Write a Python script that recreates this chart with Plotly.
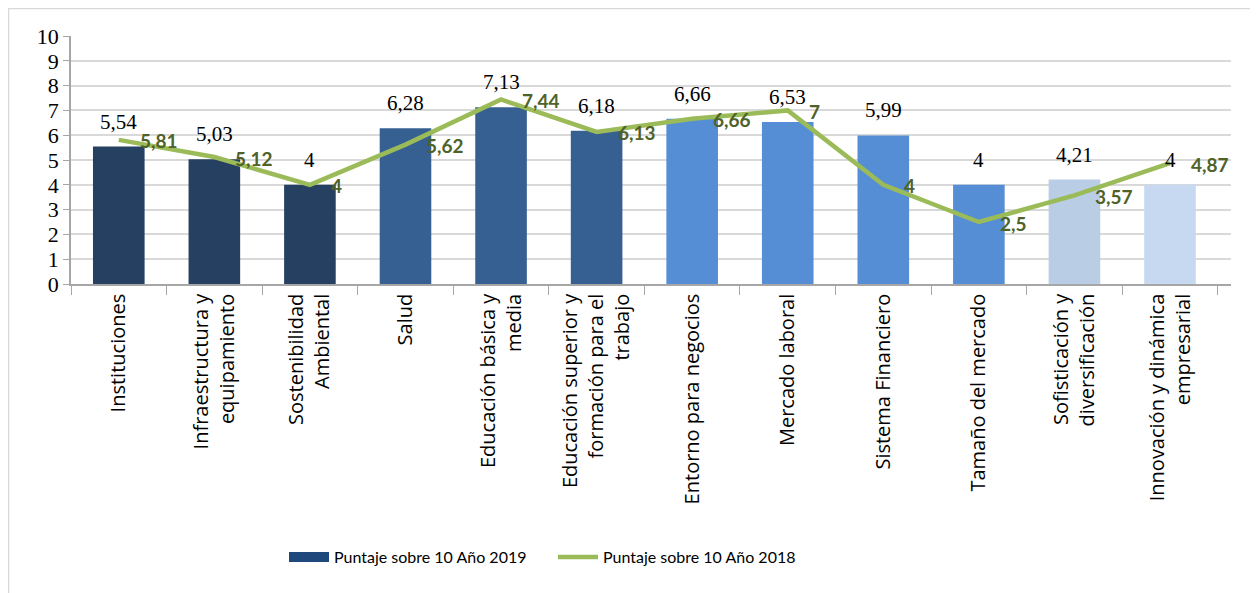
import plotly.graph_objects as go

categories = [
    "Instituciones",
    "Infraestructura y<br>equipamiento",
    "Sostenibilidad<br>Ambiental",
    "Salud",
    "Educación básica y<br>media",
    "Educación superior y<br>formación para el<br>trabajo",
    "Entorno para negocios",
    "Mercado laboral",
    "Sistema Financiero",
    "Tamaño del mercado",
    "Sofisticación y<br>diversificación",
    "Innovación y dinámica<br>empresarial",
]
values_2019 = [5.54, 5.03, 4, 6.28, 7.13, 6.18, 6.66, 6.53, 5.99, 4, 4.21, 4]
values_2018 = [5.81, 5.12, 4, 5.62, 7.44, 6.13, 6.66, 7, 4, 2.5, 3.57, 4.87]
bar_colors = ["#254061", "#254061", "#254061",
              "#366092", "#366092", "#366092",
              "#558ED5", "#558ED5", "#558ED5", "#558ED5",
              "#B9CDE5", "#C6D9F1"]
y_ticks = list(range(0, 11))
name_2019 = "Puntaje sobre 10 Año 2019"
name_2018 = "Puntaje sobre 10 Año 2018"

SERIF = "Liberation Serif, Times New Roman, DejaVu Serif, serif"


def fmt(v):
    return ("%g" % v).replace(".", ",")


# page has an 8px body margin, so the figure is 1250x585
W, H = 1250, 585
ml, mr, mt, mb = 63, 27, 28, 309
pw = W - ml - mr
ph = H - mt - mb

fig = go.Figure()
fig.add_trace(go.Bar(
    x=categories, y=values_2019, name=name_2019, showlegend=False,
    marker=dict(color=bar_colors, line=dict(width=0)),
    width=0.54,
))
fig.add_trace(go.Scatter(
    x=categories, y=values_2018, name=name_2018, showlegend=False,
    mode="lines", line=dict(color="#9BBB59", width=4.5),
    cliponaxis=False,
))
# legend-only entries (wide swatch for the bar series)
fig.add_trace(go.Scatter(
    x=[None], y=[None], name=name_2019, mode="lines",
    line=dict(color="#1F497D", width=13),
))
fig.add_trace(go.Scatter(
    x=[None], y=[None], name=name_2018, mode="lines",
    line=dict(color="#9BBB59", width=4.5),
))

annotations = []
for c, v in zip(categories, values_2019):
    annotations.append(dict(
        x=c, y=v, xref="x", yref="y", text=fmt(v), showarrow=False,
        xanchor="center", yanchor="bottom", yshift=11,
        font=dict(family=SERIF, size=21, color="#000000"),
    ))
for c, v in zip(categories, values_2018):
    annotations.append(dict(
        x=c, y=v, xref="x", yref="y", text="<b>" + fmt(v) + "</b>", showarrow=False,
        xanchor="left", yanchor="middle", xshift=19, yshift=-1,
        font=dict(family="Lato", size=19, color="#4F6228"),
    ))

# outer light border of the chart
fig.add_shape(type="rect", xref="paper", yref="paper",
              x0=(0.5 - ml) / pw, x1=(W - 4 - ml) / pw,
              y0=-(H + 20 - mt - ph) / ph, y1=1 + (mt - 0.5) / ph,
              line=dict(color="#D9D9D9", width=1.5), fillcolor="rgba(0,0,0,0)", layer="below")

fig.update_layout(
    width=W, height=H,
    margin=dict(l=ml, r=mr, t=mt, b=mb, autoexpand=False),
    plot_bgcolor="#FFFFFF", paper_bgcolor="#FFFFFF",
    showlegend=True,
    legend=dict(orientation="h", x=(284 - 8 - ml) / pw, xanchor="left",
                y=-(549 - (H - mb)) / ph, yanchor="middle",
                font=dict(family="Lato", size=16, color="#000000"),
                entrywidth=214, entrywidthmode="pixels", itemwidth=40),
    annotations=annotations,
    hovermode=False,
)
fig.update_xaxes(
    type="category", tickangle=-90,
    tickfont=dict(family="Open Sans", size=20, color="#000000"),
    showline=True, linecolor="#A6A6A6", linewidth=1.5,
    ticks="outside", ticklen=9, tickcolor="#A6A6A6", tickson="boundaries",
    showgrid=False, automargin=False,
)
fig.update_yaxes(
    range=[0, 10], tickvals=y_ticks, ticktext=[str(t) for t in y_ticks],
    tickfont=dict(family=SERIF, size=22, color="#000000"),
    showline=True, linecolor="#A6A6A6", linewidth=1.5,
    ticks="outside", ticklen=6, tickcolor="#A6A6A6",
    showgrid=True, gridcolor="#D9D9D9", gridwidth=1.5, zeroline=False,
    automargin=False,
)

fig.write_html("out.html")
